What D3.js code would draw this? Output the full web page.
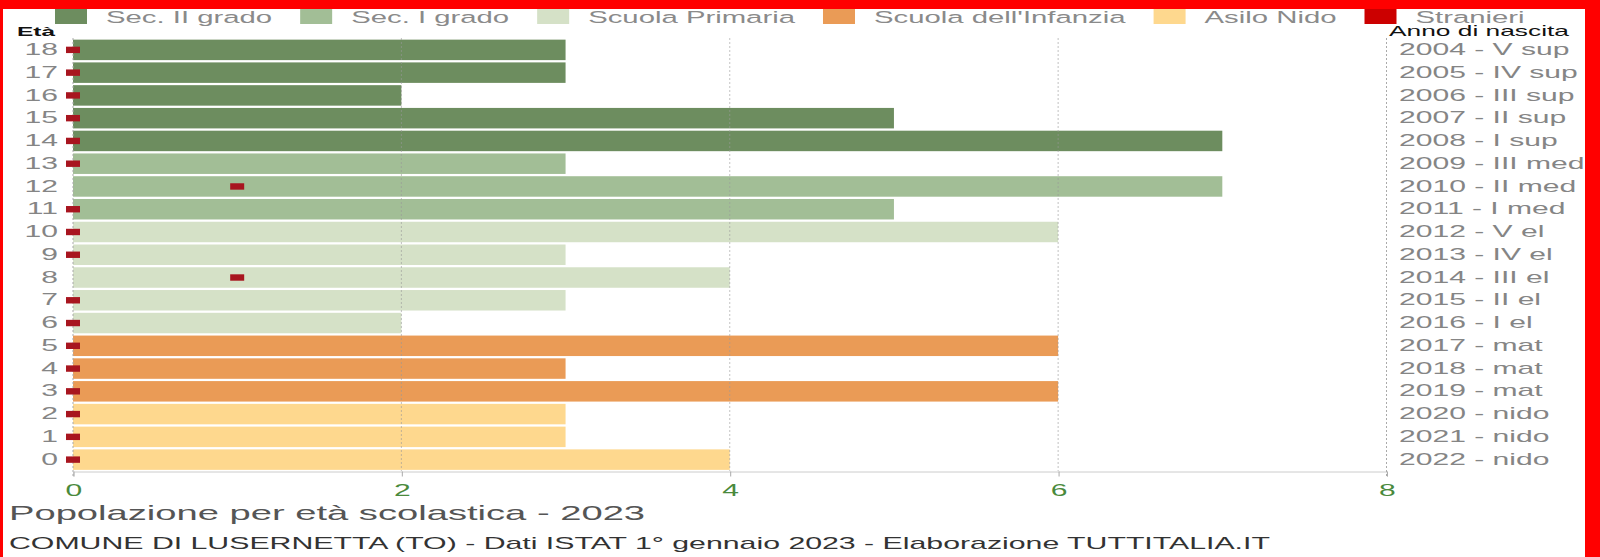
<!DOCTYPE html>
<html><head><meta charset="utf-8">
<script src="https://cdn.jsdelivr.net/npm/d3@7"></script>
<style>
html,body{margin:0;padding:0;background:#fff;overflow:hidden}
svg{display:block}
text{font-family:"Liberation Sans",Arial,Helvetica,sans-serif}
</style></head><body>
<svg id="chart"></svg>
<script>
// ---- data ----
const ages = [18,17,16,15,14,13,12,11,10,9,8,7,6,5,4,3,2,1,0];
const birthLabels = ["2004 - V sup","2005 - IV sup","2006 - III sup","2007 - II sup","2008 - I sup",
  "2009 - III med","2010 - II med","2011 - I med","2012 - V el","2013 - IV el","2014 - III el",
  "2015 - II el","2016 - I el","2017 - mat","2018 - mat","2019 - mat","2020 - nido","2021 - nido","2022 - nido"];
const population = [3,3,2,5,7,3,7,5,6,3,4,3,2,6,3,6,3,3,4];
const foreigners = [0,0,0,0,0,0,1,0,0,0,1,0,0,0,0,0,0,0,0];
const schoolLevel = ["sec2","sec2","sec2","sec2","sec2","sec1","sec1","sec1",
  "prim","prim","prim","prim","prim","inf","inf","inf","nido","nido","nido"];
const levelKeys = ["sec2","sec1","prim","inf","nido","str"];
const legendLabels = ["Sec. II grado","Sec. I grado","Scuola Primaria","Scuola dell'Infanzia","Asilo Nido","Stranieri"];
const legendColors = ["#6d8d5f","#a2be96","#d5e1c7","#ea9b56","#fed88e","#cc0000"];
const xTicks = [0,2,4,6,8];
const titleText = "Popolazione per età scolastica - 2023";
const subtitleText = "COMUNE DI LUSERNETTA (TO) - Dati ISTAT 1° gennaio 2023 - Elaborazione TUTTITALIA.IT";

// ---- layout ----
const W = 1600, H = 557, K = 1.88, VW = W / K;
const fx = v => v / K;
const colorOf = d3.scaleOrdinal().domain(levelKeys).range(legendColors);
const markerColor = "#a8151f";
const FONT = "Liberation Sans, Arial, sans-serif";

const svg = d3.select("#chart").attr("width", W).attr("height", H)
  .attr("viewBox", `0 0 ${VW} ${H}`).attr("preserveAspectRatio", "none");
svg.append("rect").attr("width", VW).attr("height", H).attr("fill", "#fff");

const x = d3.scaleLinear().domain([0, 8]).range([fx(73), fx(1386.5)]);
const y = d3.scaleBand().domain(ages).range([38.5, 471]).paddingInner(0.1).paddingOuter(0.05);
const rows = ages.map((a, i) => ({age: a, pop: population[i], str: foreigners[i], lvl: schoolLevel[i], birth: birthLabels[i]}));

// bars
svg.append("g").selectAll("rect").data(rows).join("rect")
  .attr("x", x(0)).attr("y", d => y(d.age))
  .attr("width", d => x(d.pop) - x(0)).attr("height", y.bandwidth())
  .attr("fill", d => colorOf(d.lvl));

// grid lines
svg.append("g").selectAll("line").data(xTicks.filter(t => t > 0 && t < 8)).join("line")
  .attr("x1", d => x(d)).attr("x2", d => x(d)).attr("y1", 38).attr("y2", 471)
  .attr("stroke", "#999").attr("stroke-opacity", 0.6).attr("stroke-dasharray", "2,2")
  .attr("vector-effect", "non-scaling-stroke");

// bottom axis
const gx = svg.append("g").attr("transform", `translate(0,471.5)`)
  .call(d3.axisBottom(x).tickValues(xTicks).tickSize(5).tickPadding(8).tickFormat(d3.format("d")));
gx.select(".domain").attr("stroke", "#ccc").attr("vector-effect", "non-scaling-stroke");
gx.selectAll(".tick line").attr("stroke", "#aaa").attr("vector-effect", "non-scaling-stroke");
gx.selectAll(".tick text").attr("fill", "#4a8a3c").attr("font-size", 16).attr("font-family", FONT);

// left axis
const gl = svg.append("g").attr("transform", `translate(${x(0)},0)`)
  .call(d3.axisLeft(y).tickSize(0).tickPadding(fx(15)));
gl.select(".domain").remove();
gl.selectAll(".tick text").attr("fill", "#858585").attr("font-size", 16).attr("font-family", FONT);
gl.append("line").attr("x1", 0).attr("x2", 0).attr("y1", 38).attr("y2", 476)
  .attr("stroke", "#aaa").attr("stroke-dasharray", "2,2").attr("vector-effect", "non-scaling-stroke");

// right axis
const gr = svg.append("g").attr("transform", `translate(${x(8)},0)`)
  .call(d3.axisRight(y).tickSize(0).tickPadding(fx(12.5)).tickFormat((d, i) => birthLabels[i]));
gr.select(".domain").remove();
gr.selectAll(".tick text").attr("fill", "#858585").attr("font-size", 16).attr("font-family", FONT);
gr.append("line").attr("x1", 0).attr("x2", 0).attr("y1", 38).attr("y2", 476)
  .attr("stroke", "#aaa").attr("stroke-dasharray", "2,2").attr("vector-effect", "non-scaling-stroke");

// foreigners markers
svg.append("g").selectAll("rect").data(rows).join("rect")
  .attr("x", d => x(d.str) - fx(7)).attr("y", d => y(d.age) + y.bandwidth() / 2 - 3.2)
  .attr("width", fx(14)).attr("height", 6.4).attr("fill", markerColor);

// axis titles
svg.append("text").attr("x", fx(17)).attr("y", 36).attr("font-size", 13).attr("font-weight", "bold")
  .attr("fill", "#111").text("Età");
svg.append("text").attr("x", fx(1389)).attr("y", 36).attr("font-size", 14)
  .attr("fill", "#111").text("Anno di nascita");

// legend
const lg = svg.append("g");
let lx = fx(55);
legendLabels.forEach((lab, i) => {
  lg.append("rect").attr("x", lx).attr("y", 4).attr("width", fx(32)).attr("height", 20).attr("fill", legendColors[i]);
  const t = lg.append("text").attr("x", lx + fx(51)).attr("y", 23).attr("font-size", 15.6)
    .attr("fill", "#8a8a8a").text(lab);
  lx += fx(51) + t.node().getComputedTextLength() + fx(28);
});

// titles
svg.append("text").attr("x", fx(9)).attr("y", 520).attr("font-size", 20.3).attr("fill", "#555").text(titleText);
svg.append("text").attr("x", fx(9)).attr("y", 549).attr("font-size", 16.1).attr("fill", "#333").text(subtitleText);

// red frame
svg.append("rect").attr("x", 0).attr("y", 0).attr("width", VW).attr("height", 9).attr("fill", "#ff0000");
svg.append("rect").attr("x", 0).attr("y", 0).attr("width", fx(3)).attr("height", H).attr("fill", "#ff0000");
svg.append("rect").attr("x", fx(1585)).attr("y", 0).attr("width", fx(15)).attr("height", H).attr("fill", "#ff0000");
</script></body></html>
